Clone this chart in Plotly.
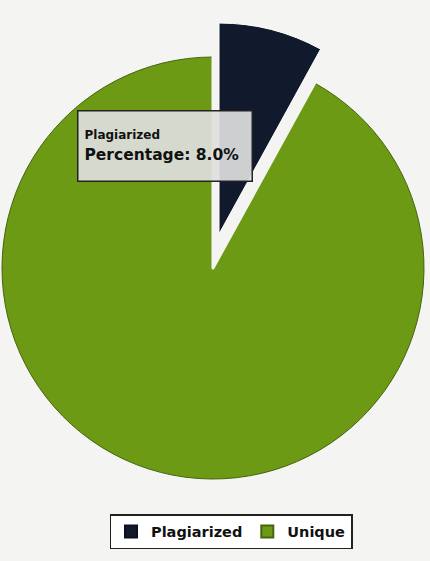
import plotly.graph_objects as go

# ---- data ----
labels = ["Plagiarized", "Unique"]
values = [8.0, 92.0]
tooltip_label = "Plagiarized"
tooltip_value = 8.0

# ---- styles ----
BG = "#f4f4f2"
NAVY = "#111a2c"
GREEN = "#6c9a14"
CLEAR = "rgba(0,0,0,0)"

W, H = 430, 561

def dom_x(cx, r):
    return [(cx - r) / W, (cx + r) / W]

def dom_y(cy, half):
    return [1 - (cy + half) / H, 1 - (cy - half) / H]

R = 211
A_cx, A_cy = 213, 268
B_cx, B_cy = 219, 234
HALF_H = 222

common = dict(labels=labels, values=values, sort=False, direction="clockwise",
              rotation=0, textinfo="none", hoverinfo="skip")

# Full pie (legend source); its plagiarized slice is covered below
traceA = go.Pie(**common,
                domain=dict(x=dom_x(A_cx, R), y=dom_y(A_cy, HALF_H)),
                marker=dict(colors=[NAVY, GREEN],
                            line=dict(color=["#0b1020", "#45650b"], width=1)),
                showlegend=True)
# Cover of the original plagiarized position
traceC = go.Pie(**common,
                domain=dict(x=dom_x(A_cx, R), y=dom_y(A_cy, HALF_H)),
                marker=dict(colors=[BG, CLEAR],
                            line=dict(color=[BG, CLEAR], width=3)),
                showlegend=False)
# Pulled-out plagiarized slice
traceB = go.Pie(**common,
                domain=dict(x=dom_x(B_cx, R), y=dom_y(B_cy, HALF_H)),
                marker=dict(colors=[NAVY, CLEAR],
                            line=dict(color=["#ffffff", CLEAR], width=1)),
                showlegend=False)

fig = go.Figure([traceA, traceC, traceB])

fig.update_layout(
    width=W, height=H,
    margin=dict(l=0, r=0, t=0, b=0),
    paper_bgcolor=BG, plot_bgcolor=BG,
    font=dict(family="DejaVu Sans", color="#111111"),
    legend=dict(orientation="h", x=231 / W, xanchor="center",
                y=1 - 514 / H, yanchor="top",
                bgcolor="#ffffff", bordercolor="#222222", borderwidth=1.5,
                font=dict(size=14.5, family="DejaVu Sans", color="#111111",
                          weight="bold"),
                itemsizing="constant"),
    annotations=[dict(
        xref="paper", yref="paper", x=77 / W, y=1 - 110 / H,
        xanchor="left", yanchor="top", align="left", showarrow=False,
        text=(f"<b><span style='font-size:12px'>{tooltip_label}</span></b><br>"
              f"<b>Percentage: {tooltip_value:.1f}%</b>"),
        font=dict(size=15.5, family="DejaVu Sans", color="#111111"),
        bgcolor="rgba(222,222,222,0.92)", bordercolor="#222222",
        borderwidth=1.5, borderpad=6, width=161, height=57,
    )],
)

fig.write_html("out.html", config={"displayModeBar": False},
               post_script="document.body.style.margin='0px';")
